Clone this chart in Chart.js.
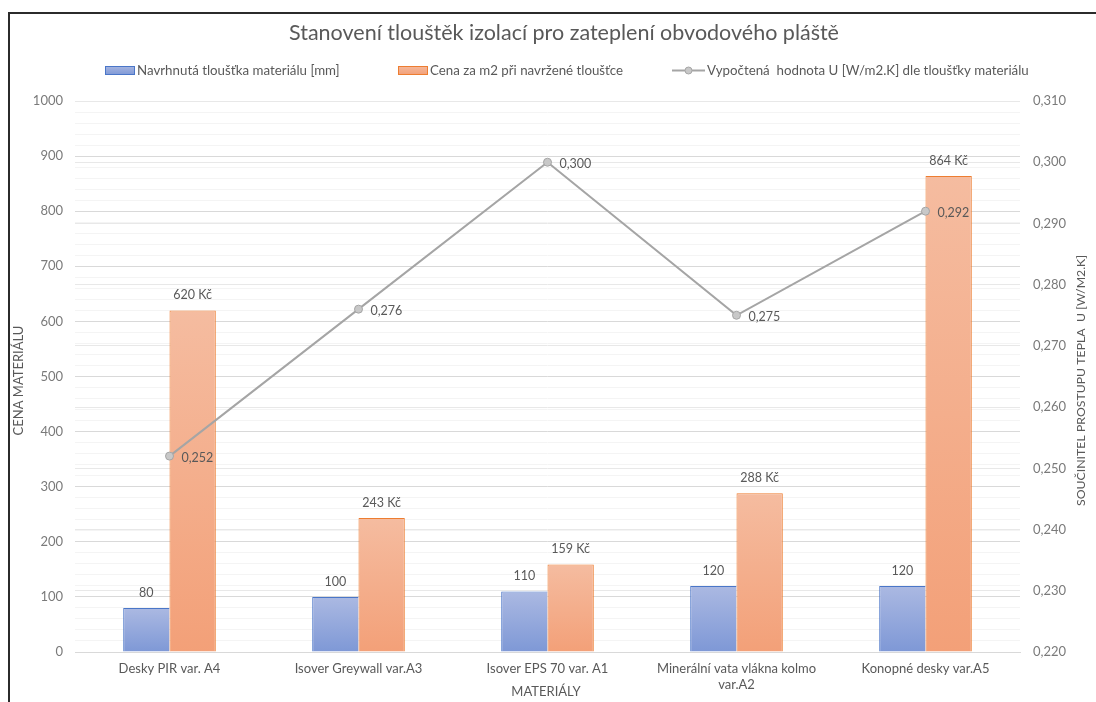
<!DOCTYPE html>
<html>
<head>
<meta charset="utf-8">
<script src="https://cdn.jsdelivr.net/npm/chart.js@4/dist/chart.umd.min.js"></script>
<style>
  html, body { margin: 0; padding: 0; background: #fff; }
  #wrap { position: relative; width: 1096px; height: 702px; }
  #frame { position: absolute; left: 8px; top: 12px; right: 0; bottom: 0;
           border-top: 2px solid #2b2b2b; border-left: 2px solid #2b2b2b; pointer-events: none; }
</style>
</head>
<body>
<div id="wrap">
  <canvas id="chart" width="1096" height="702"></canvas>
  <div id="frame"></div>
</div>
<script>
// data
const materials = [
    'Desky PIR var. A4',
    'Isover Greywall var.A3',
    'Isover EPS 70 var. A1',
    ['Minerální vata vlákna kolmo', 'var.A2'],
    'Konopné desky var.A5'
];
const thickness = [80, 100, 110, 120, 120];
const pricePerM2 = [620, 243, 159, 288, 864];
const uValue = [0.252, 0.276, 0.300, 0.275, 0.292];

const chartTitle = 'Stanovení tlouštěk izolací pro zateplení obvodového pláště';
const seriesNames = [
    'Navrhnutá tloušťka materiálu [mm]',
    'Cena za m2 při navržené tloušťce',
    'Vypočtená  hodnota U [W/m2.K] dle tloušťky materiálu'
];
const leftTitle = 'CENA MATERIÁLU';
const rightTitle = 'SOUČINITEL PROSTUPU TEPLA  U [W/M2.K]';
const bottomTitle = 'MATERIÁLY';

const FONT = 'Lato, "Open Sans", sans-serif';
const TXT = '#595959';
const TICK = '#7a7a7a';

function fmtU(v) {
    return v.toFixed(3).replace('.', ',');
}

// vertical gradient per bar, light at top, darker at base
function barGradient(top, bottom) {
    return function(ctx) {
        var chart = ctx.chart;
        if (!chart.chartArea || ctx.type !== 'data') return bottom;
        var y = chart.scales.y;
        var v = ctx.dataset.data[ctx.dataIndex];
        var y0 = y.getPixelForValue(v);
        var y1 = y.getPixelForValue(0);
        if (!isFinite(y0) || y1 - y0 < 1) return bottom;
        var g = chart.ctx.createLinearGradient(0, y0, 0, y1);
        g.addColorStop(0, top);
        g.addColorStop(1, bottom);
        return g;
    };
}

// title, legend, axis titles and value labels
const decorations = {
    id: 'decorations',
    afterDatasetsDraw(chart) {
        var ctx = chart.ctx;
        ctx.save();
        ctx.fillStyle = TXT;
        ctx.font = '12.5px ' + FONT;
        ctx.textAlign = 'center';
        ctx.textBaseline = 'middle';

        var m0 = chart.getDatasetMeta(0);
        m0.data.forEach(function(bar, i) {
            ctx.fillText(String(thickness[i]), bar.x, bar.y - 15);
        });
        var m1 = chart.getDatasetMeta(1);
        m1.data.forEach(function(bar, i) {
            ctx.fillText(pricePerM2[i] + ' Kč', bar.x, bar.y - 15);
        });
        var m2 = chart.getDatasetMeta(2);
        ctx.font = '12.5px ' + FONT;
        ctx.textAlign = 'left';
        m2.data.forEach(function(pt, i) {
            ctx.fillText(fmtU(uValue[i]), pt.x + 12, pt.y + 2);
        });
        ctx.restore();
    },
    afterDraw(chart) {
        var ctx = chart.ctx;
        var area = chart.chartArea;
        ctx.save();
        ctx.fillStyle = TXT;
        ctx.textBaseline = 'middle';

        // chart title
        ctx.font = '21.5px ' + FONT;
        ctx.textAlign = 'center';
        ctx.fillText(chartTitle, 564, 33);

        // legend
        ctx.font = '13.3px ' + FONT;
        ctx.textAlign = 'left';
        var ly = 70;
        var g1 = ctx.createLinearGradient(0, ly - 5, 0, ly + 5);
        g1.addColorStop(0, '#abb9e2'); g1.addColorStop(1, '#7e98d6');
        ctx.fillStyle = g1;
        ctx.fillRect(105, ly - 4, 30, 9);
        ctx.strokeStyle = '#4a76c8';
        ctx.lineWidth = 1;
        ctx.strokeRect(105.5, ly - 3.5, 29, 8);
        ctx.fillStyle = TXT;
        ctx.fillText(seriesNames[0], 137, ly + 1);

        var g2 = ctx.createLinearGradient(0, ly - 5, 0, ly + 5);
        g2.addColorStop(0, '#f5bca0'); g2.addColorStop(1, '#f3a078');
        ctx.fillStyle = g2;
        ctx.fillRect(398, ly - 4, 30, 9);
        ctx.strokeStyle = '#ed7d31';
        ctx.strokeRect(398.5, ly - 3.5, 29, 8);
        ctx.fillStyle = TXT;
        ctx.fillText(seriesNames[1], 430, ly + 1);

        ctx.strokeStyle = '#a5a5a5';
        ctx.lineWidth = 2;
        ctx.beginPath();
        ctx.moveTo(672, ly + 0.5);
        ctx.lineTo(705, ly + 0.5);
        ctx.stroke();
        ctx.beginPath();
        ctx.arc(688.5, ly + 0.5, 3.5, 0, Math.PI * 2);
        ctx.fillStyle = '#c8c8c8';
        ctx.fill();
        ctx.lineWidth = 1;
        ctx.stroke();
        ctx.fillStyle = TXT;
        ctx.fillText(seriesNames[2], 707, ly + 1);

        // axis titles
        ctx.font = '13px ' + FONT;
        ctx.textAlign = 'center';
        var cy = (area.top + area.bottom) / 2;
        ctx.save();
        ctx.translate(19, cy + 4);
        ctx.rotate(-Math.PI / 2);
        ctx.fillText(leftTitle, 0, 0);
        ctx.restore();
        ctx.font = '12.3px ' + FONT;
        ctx.save();
        ctx.translate(1081, cy + 4);
        ctx.rotate(-Math.PI / 2);
        ctx.fillText(rightTitle, 0, 0);
        ctx.restore();
        ctx.font = '13px ' + FONT;
        ctx.fillText(bottomTitle, 546, 692);
        ctx.restore();
    }
};

const ctx = document.getElementById('chart');
const chart = new Chart(ctx, {
    type: 'bar',
    data: {
        labels: materials,
        datasets: [{
            label: seriesNames[0],
            data: thickness,
            yAxisID: 'y',
            order: 2,
            backgroundColor: barGradient('#abb9e2', '#7e98d6'),
            borderColor: '#4a76c8',
            borderWidth: { left: 1, right: 0, top: 1, bottom: 0 },
            barPercentage: 1,
            categoryPercentage: 0.49
        }, {
            label: seriesNames[1],
            data: pricePerM2,
            yAxisID: 'y',
            order: 2,
            backgroundColor: barGradient('#f5bca0', '#f3a078'),
            borderColor: '#ed7d31',
            borderWidth: 1,
            barPercentage: 1,
            categoryPercentage: 0.49
        }, {
            type: 'line',
            label: seriesNames[2],
            data: uValue,
            yAxisID: 'y1',
            order: 0,
            borderColor: '#a5a5a5',
            borderWidth: 2,
            pointRadius: 4,
            pointBackgroundColor: '#c8c8c8',
            pointBorderColor: '#a5a5a5',
            pointBorderWidth: 1,
            tension: 0
        }]
    },
    options: {
        responsive: false,
        animation: false,
        layout: { padding: { top: 101, left: 0, right: 0, bottom: 0 } },
        plugins: {
            legend: { display: false },
            title: { display: false },
            tooltip: { enabled: false }
        },
        scales: {
            x: {
                grid: { display: false, drawTicks: false },
                border: { color: '#d9d9d9', width: 1 },
                ticks: {
                    color: TXT,
                    font: { family: FONT, size: 13 },
                    padding: 9,
                    maxRotation: 0,
                    autoSkip: false
                },
                afterFit: function(s) { s.height = 50; }
            },
            // faint minor lines behind everything
            yMinor: {
                position: 'left',
                display: true,
                min: 0,
                max: 1000,
                ticks: { display: false, stepSize: 20 },
                grid: { color: '#f4f4f4', drawTicks: false },
                border: { display: false },
                afterFit: function(s) { s.width = 0; }
            },
            y: {
                position: 'left',
                min: 0,
                max: 1000,
                ticks: {
                    stepSize: 100,
                    color: TICK,
                    font: { family: FONT, size: 13 },
                    padding: 12,
                    callback: function(v) { return String(v); }
                },
                grid: { color: '#d9d9d9', drawTicks: false },
                border: { display: false },
                afterFit: function(s) { s.width = 75; }
            },
            y1: {
                position: 'right',
                min: 0.22,
                max: 0.31,
                ticks: {
                    stepSize: 0.01,
                    color: TICK,
                    font: { family: FONT, size: 13 },
                    padding: 13,
                    callback: function(v) { return fmtU(v); }
                },
                grid: { color: '#e8e8e8', drawTicks: false },
                border: { display: false },
                afterFit: function(s) { s.width = 76; }
            }
        }
    },
    plugins: [decorations]
});
</script>
</body>
</html>
